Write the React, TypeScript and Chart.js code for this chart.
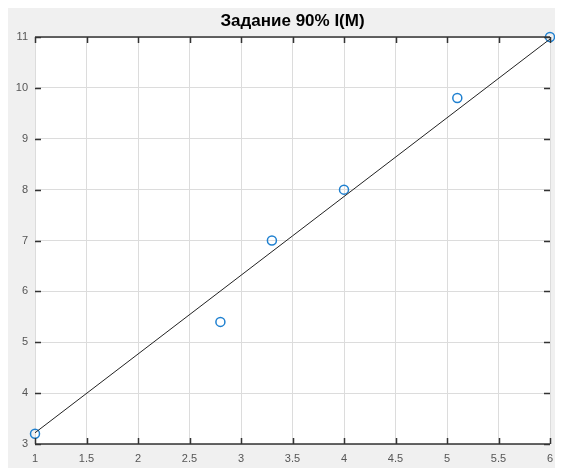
import React, { useEffect, useRef } from "react";
import { Chart, registerables } from "chart.js";

Chart.register(...registerables);

const titleText = "Задание 90% I(M)";
const xValues = [1, 2.8, 3.3, 4.0, 5.1, 6.0];
const yValues = [3.2, 5.4, 7.0, 8.0, 9.8, 11.0];
const fitX = [1, 6];
const fitY = [3.22, 10.96];
const xTicks = [1, 1.5, 2, 2.5, 3, 3.5, 4, 4.5, 5, 5.5, 6];
const yTicks = [3, 4, 5, 6, 7, 8, 9, 10, 11];

const FONT = "'Liberation Sans', Arial, sans-serif";

const boxPlugin = {
  id: "matlabBox",
  beforeDraw(chart: any) {
    const { ctx, chartArea } = chart;
    ctx.save();
    ctx.fillStyle = "#ffffff";
    ctx.fillRect(chartArea.left, chartArea.top, chartArea.right - chartArea.left, chartArea.bottom - chartArea.top);
    ctx.restore();
  },
  afterDraw(chart: any) {
    const { ctx, chartArea } = chart;
    const { left, right, top, bottom } = chartArea;
    const xs = chart.scales.x;
    const ys = chart.scales.y;
    const tl = 6;
    ctx.save();
    ctx.strokeStyle = "#333333";
    ctx.lineWidth = 1.5;
    ctx.beginPath();
    ctx.moveTo(left, top);
    ctx.lineTo(right, top);
    ctx.moveTo(left, bottom);
    ctx.lineTo(right, bottom);
    xs.ticks.forEach((t: any) => {
      const px = Math.round(xs.getPixelForValue(t.value)) + 0.5;
      ctx.moveTo(px, bottom);
      ctx.lineTo(px, bottom - tl);
      ctx.moveTo(px, top);
      ctx.lineTo(px, top + tl);
    });
    ys.ticks.forEach((t: any) => {
      const py = Math.round(ys.getPixelForValue(t.value)) + 0.5;
      ctx.moveTo(left, py);
      ctx.lineTo(left + tl, py);
      ctx.moveTo(right, py);
      ctx.lineTo(right - tl, py);
    });
    ctx.stroke();
    // title centered over the axes
    ctx.fillStyle = "#000000";
    ctx.font = `bold 17px ${FONT}`;
    ctx.textAlign = "center";
    ctx.textBaseline = "middle";
    ctx.fillText(titleText, (left + right) / 2, 13.5);
    ctx.restore();
  },
};

export default function App() {
  const canvasRef = useRef<HTMLCanvasElement | null>(null);

  useEffect(() => {
    if (!canvasRef.current) return;
    const chart = new Chart(canvasRef.current, {
      type: "scatter",
      data: {
        datasets: [
          {
            label: "fit",
            data: fitX.map((x, i) => ({ x, y: fitY[i] })),
            showLine: true,
            borderColor: "#222222",
            borderWidth: 1,
            pointRadius: 0,
            fill: false,
          },
          {
            label: "data",
            data: xValues.map((x, i) => ({ x, y: yValues[i] })),
            showLine: false,
            clip: false,
            pointStyle: "circle",
            pointRadius: 4.5,
            pointBorderWidth: 1.5,
            pointBorderColor: "#1f80d0",
            pointBackgroundColor: "rgba(0,0,0,0)",
            borderColor: "#1f80d0",
            backgroundColor: "rgba(0,0,0,0)",
          } as any,
        ],
      },
      options: {
        animation: false,
        responsive: true,
        maintainAspectRatio: false,
        layout: { padding: { left: 0, right: 13, top: 29, bottom: 0 } },
        plugins: {
          legend: { display: false },
          tooltip: { enabled: false },
          title: { display: false },
        },
        scales: {
          x: {
            type: "linear",
            min: 1,
            max: 6,
            afterBuildTicks: (s: any) => {
              s.ticks = xTicks.map((v) => ({ value: v }));
            },
            afterFit: (s: any) => {
              s.height = 24;
            },
            border: { display: false },
            grid: { color: "#dcdcdc", lineWidth: 1, drawTicks: false },
            ticks: {
              padding: 8,
              color: "#555555",
              font: { family: FONT, size: 11 },
              maxRotation: 0,
              autoSkip: false,
              callback: (v: any) => String(v),
            },
          },
          y: {
            type: "linear",
            min: 3,
            max: 11,
            afterBuildTicks: (s: any) => {
              s.ticks = yTicks.map((v) => ({ value: v }));
            },
            afterFit: (s: any) => {
              s.width = 27;
            },
            border: { display: false },
            grid: { color: "#dcdcdc", lineWidth: 1, drawTicks: false },
            ticks: {
              padding: 7,
              color: "#555555",
              font: { family: FONT, size: 11 },
              autoSkip: false,
              callback: (v: any) => String(v),
            },
          },
        },
      },
      plugins: [boxPlugin],
    });
    return () => chart.destroy();
  }, []);

  return (
    <div style={{ width: 555, height: 460, background: "#f0f0f0", position: "relative" }}>
      <canvas ref={canvasRef} />
    </div>
  );
}
